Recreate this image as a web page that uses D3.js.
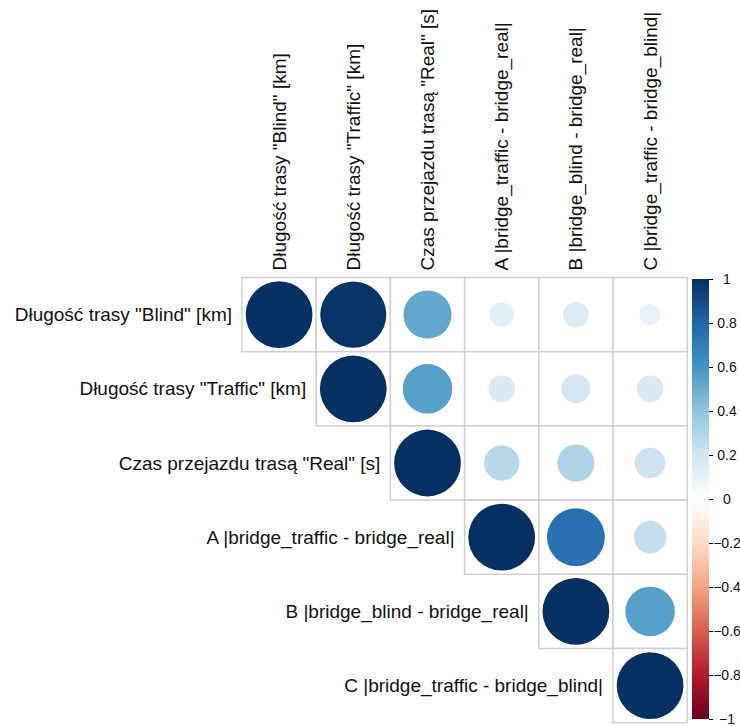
<!DOCTYPE html>
<html>
<head>
<meta charset="utf-8">
<script src="https://cdn.jsdelivr.net/npm/d3@7"></script>
<style>
  html, body { margin: 0; padding: 0; background: #fff; }
  svg { display: block; font-family: "Liberation Sans", Arial, sans-serif; }
</style>
</head>
<body>
<svg id="chart" width="740" height="726"></svg>
<script>
// Variables of the correlation matrix
const variables = [
  'Długość trasy "Blind" [km]',
  'Długość trasy "Traffic" [km]',
  'Czas przejazdu trasą "Real" [s]',
  'A |bridge_traffic - bridge_real|',
  'B |bridge_blind - bridge_real|',
  'C |bridge_traffic - bridge_blind|'
];

// Upper-triangle correlation rows (row i holds columns i..5)
const corrRow1 = [1.00, 0.98, 0.52, 0.13, 0.15, 0.10];
const corrRow2 = [1.00, 0.55, 0.16, 0.19, 0.16];
const corrRow3 = [1.00, 0.28, 0.31, 0.21];
const corrRow4 = [1.00, 0.75, 0.24];
const corrRow5 = [1.00, 0.55];
const corrRow6 = [1.00];
const corrRows = [corrRow1, corrRow2, corrRow3, corrRow4, corrRow5, corrRow6];

// Colour legend ticks
const legendTicks = [-1, -0.8, -0.6, -0.4, -0.2, 0, 0.2, 0.4, 0.6, 0.8, 1];

// RdBu diverging ramp (−1 … 1)
const rampColors = ["#67001F", "#B2182B", "#D6604D", "#F4A582", "#FDDBC7", "#FFFFFF",
                    "#D1E5F0", "#92C5DE", "#4393C3", "#2166AC", "#053061"];

const cells = [];
corrRows.forEach((row, i) => row.forEach((v, k) => cells.push({ r: i, c: i + k, v })));

const svg = d3.select("#chart");
const n = variables.length;
const gridLeft = 242, gridTop = 277.5, cell = 74.2;
const labelSize = 19;

const x = d3.scaleBand().domain(d3.range(n)).range([gridLeft, gridLeft + n * cell]).padding(0);
const y = d3.scaleBand().domain(d3.range(n)).range([gridTop, gridTop + n * cell]).padding(0);
const color = d3.scaleLinear()
  .domain(d3.range(rampColors.length).map(i => -1 + 2 * i / (rampColors.length - 1)))
  .range(rampColors)
  .interpolate(d3.interpolateRgb);
// circle area proportional to |r|
const radius = d3.scaleSqrt().domain([0, 1]).range([0, cell * 0.45]);

// cell backgrounds and grid
svg.append("g").selectAll("rect")
  .data(cells).join("rect")
  .attr("x", d => x(d.c)).attr("y", d => y(d.r))
  .attr("width", x.bandwidth()).attr("height", y.bandwidth())
  .attr("fill", "#fff")
  .attr("stroke", "#cfcfcf").attr("stroke-width", 1.5);

// correlation circles
svg.append("g").selectAll("circle")
  .data(cells).join("circle")
  .attr("cx", d => x(d.c) + x.bandwidth() / 2)
  .attr("cy", d => y(d.r) + y.bandwidth() / 2)
  .attr("r", d => radius(Math.abs(d.v)))
  .attr("fill", d => color(d.v));

// row labels
svg.append("g").selectAll("text")
  .data(variables).join("text")
  .attr("x", (d, i) => x(i) - 10)
  .attr("y", (d, i) => y(i) + y.bandwidth() / 2)
  .attr("text-anchor", "end")
  .attr("dominant-baseline", "central")
  .attr("font-size", labelSize)
  .attr("fill", "#111")
  .text(d => d);

// column labels (rotated)
svg.append("g").selectAll("text")
  .data(variables).join("text")
  .attr("transform", (d, i) => `translate(${x(i) + x.bandwidth() / 2},${gridTop - 7}) rotate(-90)`)
  .attr("text-anchor", "start")
  .attr("dominant-baseline", "central")
  .attr("font-size", labelSize)
  .attr("fill", "#111")
  .text(d => d);

// colour legend
const barX = 692, barW = 17, barTop = 279, barBottom = 719;
const ly = d3.scaleLinear().domain([-1, 1]).range([barBottom, barTop]);
const defs = svg.append("defs");
const grad = defs.append("linearGradient").attr("id", "rdbu")
  .attr("x1", 0).attr("y1", 1).attr("x2", 0).attr("y2", 0);
grad.selectAll("stop").data(color.domain()).join("stop")
  .attr("offset", d => (d + 1) / 2)
  .attr("stop-color", d => color(d));
svg.append("rect")
  .attr("x", barX).attr("y", barTop)
  .attr("width", barW).attr("height", barBottom - barTop)
  .attr("fill", "url(#rdbu)");

const legendAxis = d3.axisRight(ly).tickValues(legendTicks).tickSize(4).tickPadding(0)
  .tickFormat(d => d === 0 ? "0" : d3.format("")(+d.toFixed(1)));
const lg = svg.append("g").attr("transform", `translate(${barX + barW},0)`).call(legendAxis);
lg.select(".domain").remove();
lg.selectAll("line").attr("stroke", "#000");
lg.selectAll("text")
  .attr("x", 18)
  .attr("text-anchor", "middle")
  .attr("font-size", 14).attr("fill", "#111")
  .attr("font-family", '"Liberation Sans", Arial, sans-serif');
</script>
</body>
</html>
